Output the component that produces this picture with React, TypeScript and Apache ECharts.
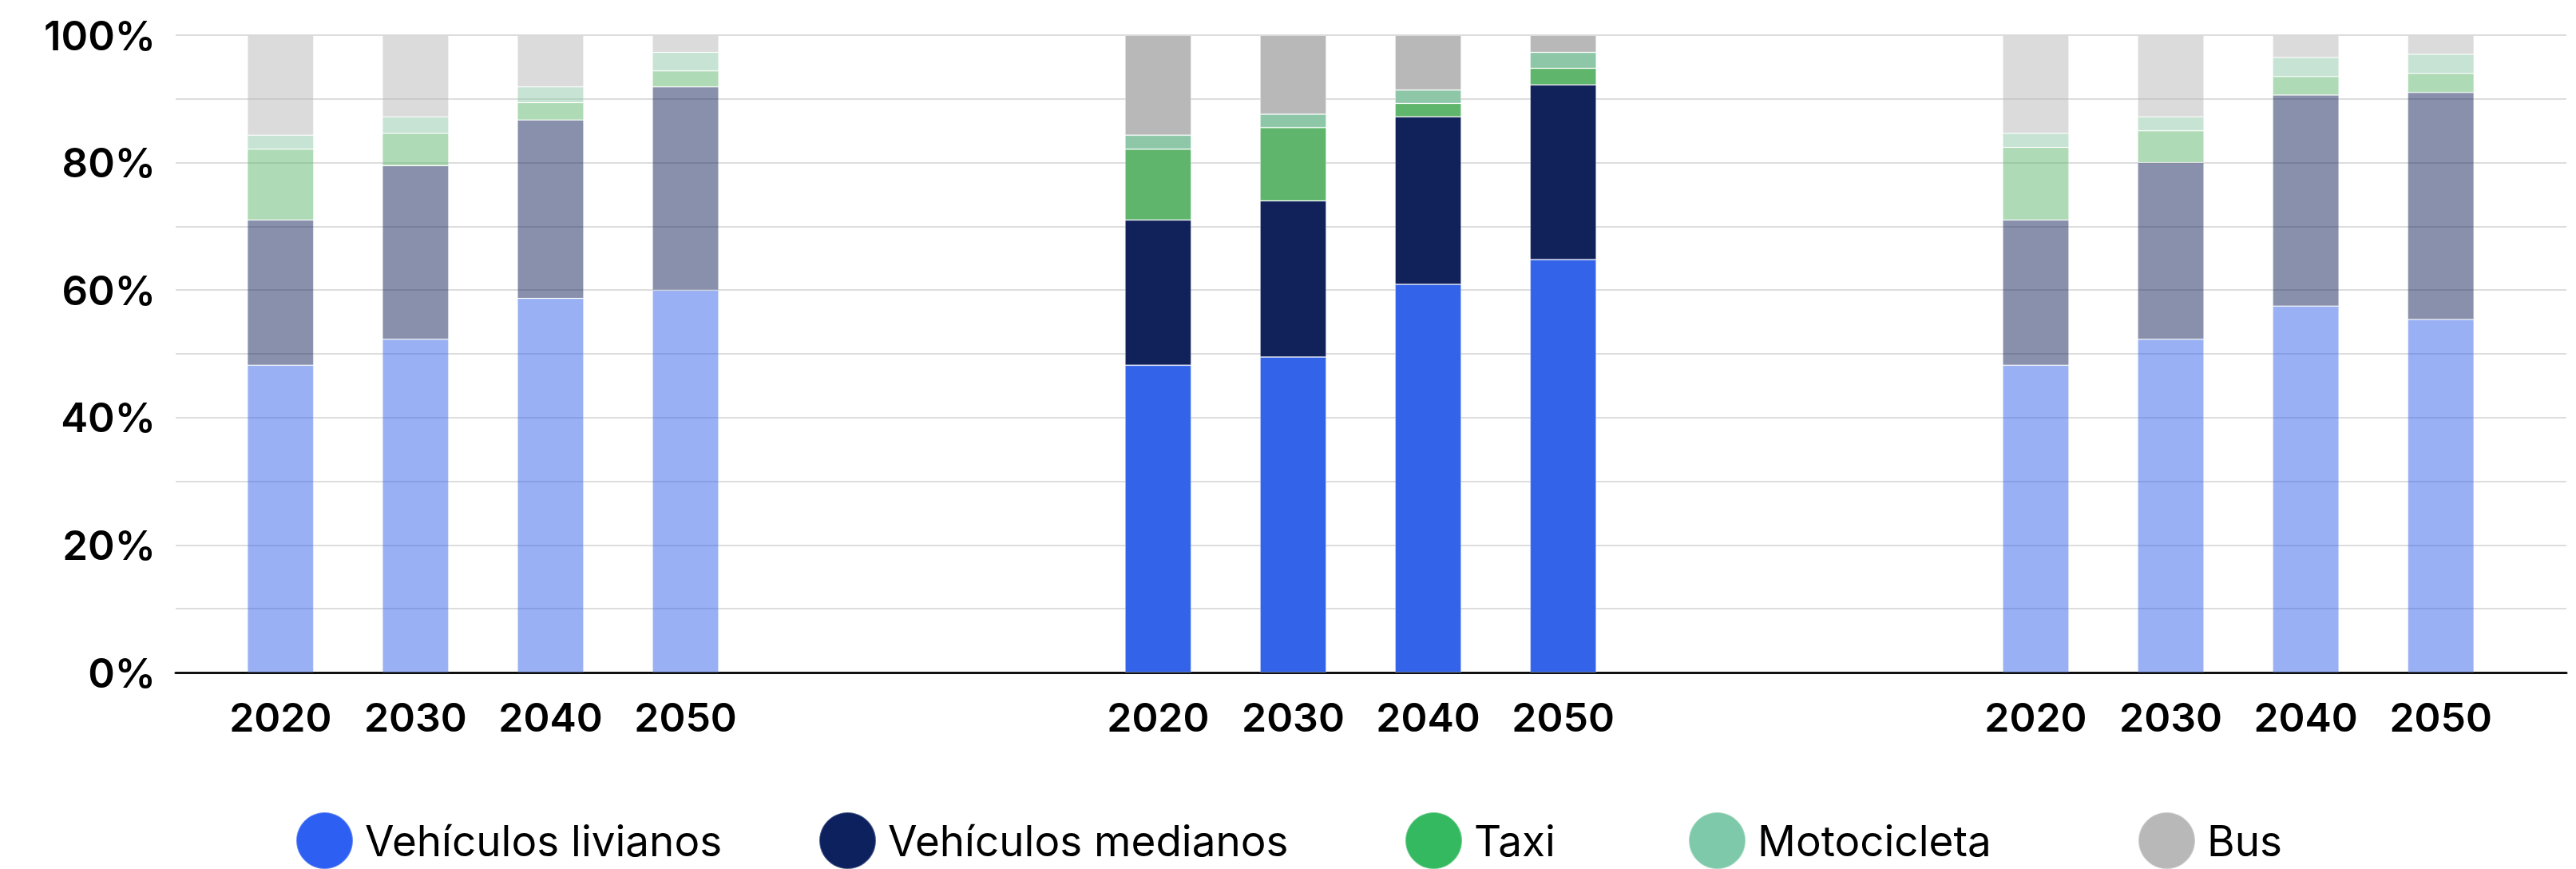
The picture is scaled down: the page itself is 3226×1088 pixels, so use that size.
import React, { useEffect, useRef } from "react";
import * as echarts from "echarts";

// ---- data ----
const yearLabels = ["2020", "2030", "2040", "2050"];
const seriesNames = ["Vehículos livianos", "Vehículos medianos", "Taxi", "Motocicleta", "Bus"];
const yTickValues = [0, 20, 40, 60, 80, 100];

// three scenarios (left, centre highlighted, right)
const livianosA = [48.2, 52.3, 58.7, 60.0];
const livianosB = [48.2, 49.5, 60.9, 64.8];
const livianosC = [48.2, 52.3, 57.5, 55.4];

const medianosA = [22.8, 27.2, 28.0, 31.9];
const medianosB = [22.8, 24.5, 26.3, 27.4];
const medianosC = [22.8, 27.7, 33.1, 35.6];

const taxiA = [11.1, 5.1, 2.7, 2.5];
const taxiB = [11.1, 11.5, 2.1, 2.6];
const taxiC = [11.4, 5.0, 2.9, 3.0];

const motoA = [2.2, 2.6, 2.5, 2.9];
const motoB = [2.2, 2.1, 2.1, 2.5];
const motoC = [2.2, 2.2, 3.0, 3.0];

const busA = [15.7, 12.8, 8.1, 2.7];
const busB = [15.7, 12.4, 8.6, 2.7];
const busC = [15.4, 12.8, 3.5, 3.0];

const seriesGroups = [
  [livianosA, livianosB, livianosC],
  [medianosA, medianosB, medianosC],
  [taxiA, taxiB, taxiC],
  [motoA, motoB, motoC],
  [busA, busB, busC],
];

// ---- styles / layout ----
const barColors = ["#3363E9", "#11215A", "#5EB56B", "#8DC7A8", "#B8B8B8"];
const legendColors = ["#2D5FF3", "#0C215E", "#34B960", "#7EC9A9", "#B8B8B8"];
const legendLefts = [365, 1020, 1754, 2109, 2672];
const groupOpacity = [0.5, 1, 0.5];
const groupStart = [0, 13, 26];
const slotStep = 2;
const N_SLOTS = 33;
const FONT = "Inter, 'Noto Sans', sans-serif";

export default function App() {
  const ref = useRef<HTMLDivElement>(null);

  useEffect(() => {
    if (!ref.current) return;
    const chart = echarts.init(ref.current, null, { renderer: "svg" });

    const slotKeys = Array.from({ length: N_SLOTS }, (_, i) => "s" + i);
    const slotLabel: Record<string, string> = {};
    groupStart.forEach((start) => {
      yearLabels.forEach((y, k) => {
        slotLabel["s" + (start + k * slotStep)] = y;
      });
    });

    const series = seriesNames.map((name, si) => {
      const arr: any[] = Array(N_SLOTS).fill("-");
      seriesGroups[si].forEach((vals, g) => {
        vals.forEach((v, k) => {
          arr[groupStart[g] + k * slotStep] = {
            value: v,
            itemStyle: { opacity: groupOpacity[g] },
          };
        });
      });
      return {
        name,
        type: "bar",
        stack: "total",
        xAxisIndex: 1,
        yAxisIndex: 1,
        barWidth: 83,
        itemStyle: {
          color: barColors[si],
          borderColor: "rgba(255,255,255,0.3)",
          borderWidth: 1,
        },
        data: arr,
      };
    });

    const option: any = {
      animation: false,
      backgroundColor: "#ffffff",
      grid: [
        { left: 220, right: 12, top: 44, bottom: 246 },
        { left: 309, right: 127, top: 44, bottom: 246 },
      ],
      xAxis: [
        {
          gridIndex: 0,
          type: "value",
          min: 0,
          max: 1,
          axisLine: { show: true, lineStyle: { color: "#111111", width: 3 } },
          axisTick: { show: false },
          axisLabel: { show: false },
          splitLine: { show: false },
        },
        {
          gridIndex: 1,
          type: "category",
          data: slotKeys,
          boundaryGap: true,
          axisLine: { show: false },
          axisTick: { show: false },
          axisLabel: {
            interval: 0,
            margin: 31,
            fontSize: 50,
            lineHeight: 50,
            fontWeight: 600,
            color: "#000000",
            fontFamily: FONT,
            formatter: (v: string) => slotLabel[v] || "",
          },
        },
      ],
      yAxis: [
        {
          gridIndex: 0,
          type: "value",
          min: 0,
          max: 100,
          interval: 10,
          axisLine: { show: false },
          axisTick: { show: false },
          axisLabel: {
            margin: 25,
            fontSize: 51,
            fontWeight: 600,
            color: "#000000",
            fontFamily: FONT,
            formatter: (v: number) => (yTickValues.includes(v) ? v + "%" : ""),
          },
          splitLine: { lineStyle: { color: "#DDDDDD", width: 2 } },
        },
        {
          gridIndex: 1,
          type: "value",
          min: 0,
          max: 100,
          show: false,
        },
      ],
      legend: seriesNames.map((name, i) => ({
        data: [{ name, itemStyle: { color: legendColors[i] } }],
        left: legendLefts[i],
        top: 1011,
        icon: "circle",
        itemWidth: 71,
        itemHeight: 71,
        selectedMode: false,
        textStyle: {
          fontSize: 53,
          color: "#000000",
          fontFamily: FONT,
          padding: [6, 0, 0, 10],
        },
      })),
      series,
    };

    chart.setOption(option);
    return () => chart.dispose();
  }, []);

  return (
    <div
      ref={ref}
      style={{ position: "fixed", left: 0, top: 0, width: 3226, height: 1088, background: "#fff" }}
    />
  );
}
